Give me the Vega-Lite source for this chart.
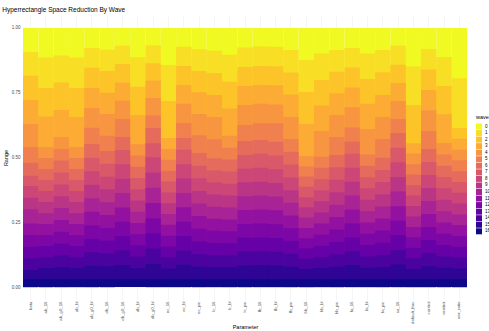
{
"$schema":"https://vega.github.io/schema/vega-lite/v6.json",
"autosize":{"type":"none"},
"width":444,"height":285,
"padding":{"left":23,"top":15,"right":22,"bottom":31},
"background":"white",
"config":{"view":{"stroke":null},"font":"Liberation Sans"},
"title":{"text":"Hyperrectangle Space Reduction By Wave","anchor":"start","fontSize":6.5,"fontWeight":"normal","color":"#000000","offset":2,"dx":-1},
"datasets":{"d":[
{"p":"beta","w":0,"r":1},{"p":"beta","w":1,"r":0.907},{"p":"beta","w":2,"r":0.816},{"p":"beta","w":3,"r":0.722},{"p":"beta","w":4,"r":0.629},{"p":"beta","w":5,"r":0.541},{"p":"beta","w":6,"r":0.48},{"p":"beta","w":7,"r":0.43},{"p":"beta","w":8,"r":0.39},{"p":"beta","w":9,"r":0.345},{"p":"beta","w":10,"r":0.30},{"p":"beta","w":11,"r":0.245},{"p":"beta","w":12,"r":0.20},{"p":"beta","w":13,"r":0.155},{"p":"beta","w":14,"r":0.11},{"p":"beta","w":15,"r":0.065},{"p":"beta","w":16,"r":0.03},
{"p":"ab_16","w":0,"r":1},{"p":"ab_16","w":1,"r":0.886},{"p":"ab_16","w":2,"r":0.768},{"p":"ab_16","w":3,"r":0.658},{"p":"ab_16","w":4,"r":0.541},{"p":"ab_16","w":5,"r":0.498},{"p":"ab_16","w":6,"r":0.456},{"p":"ab_16","w":7,"r":0.413},{"p":"ab_16","w":8,"r":0.371},{"p":"ab_16","w":9,"r":0.328},{"p":"ab_16","w":10,"r":0.285},{"p":"ab_16","w":11,"r":0.243},{"p":"ab_16","w":12,"r":0.20},{"p":"ab_16","w":13,"r":0.158},{"p":"ab_16","w":14,"r":0.115},{"p":"ab_16","w":15,"r":0.073},{"p":"ab_16","w":16,"r":0.03},
{"p":"ab_g0_16","w":0,"r":1},{"p":"ab_g0_16","w":1,"r":0.894},{"p":"ab_g0_16","w":2,"r":0.789},{"p":"ab_g0_16","w":3,"r":0.683},{"p":"ab_g0_16","w":4,"r":0.579},{"p":"ab_g0_16","w":5,"r":0.533},{"p":"ab_g0_16","w":6,"r":0.488},{"p":"ab_g0_16","w":7,"r":0.442},{"p":"ab_g0_16","w":8,"r":0.396},{"p":"ab_g0_16","w":9,"r":0.350},{"p":"ab_g0_16","w":10,"r":0.305},{"p":"ab_g0_16","w":11,"r":0.259},{"p":"ab_g0_16","w":12,"r":0.213},{"p":"ab_g0_16","w":13,"r":0.167},{"p":"ab_g0_16","w":14,"r":0.122},{"p":"ab_g0_16","w":15,"r":0.076},{"p":"ab_g0_16","w":16,"r":0.03},
{"p":"ab_bl","w":0,"r":1},{"p":"ab_bl","w":1,"r":0.886},{"p":"ab_bl","w":2,"r":0.768},{"p":"ab_bl","w":3,"r":0.656},{"p":"ab_bl","w":4,"r":0.541},{"p":"ab_bl","w":5,"r":0.498},{"p":"ab_bl","w":6,"r":0.456},{"p":"ab_bl","w":7,"r":0.413},{"p":"ab_bl","w":8,"r":0.371},{"p":"ab_bl","w":9,"r":0.328},{"p":"ab_bl","w":10,"r":0.285},{"p":"ab_bl","w":11,"r":0.243},{"p":"ab_bl","w":12,"r":0.20},{"p":"ab_bl","w":13,"r":0.158},{"p":"ab_bl","w":14,"r":0.115},{"p":"ab_bl","w":15,"r":0.073},{"p":"ab_bl","w":16,"r":0.03},
{"p":"ab_g0_bl","w":0,"r":1},{"p":"ab_g0_bl","w":1,"r":0.923},{"p":"ab_g0_bl","w":2,"r":0.846},{"p":"ab_g0_bl","w":3,"r":0.768},{"p":"ab_g0_bl","w":4,"r":0.691},{"p":"ab_g0_bl","w":5,"r":0.615},{"p":"ab_g0_bl","w":6,"r":0.552},{"p":"ab_g0_bl","w":7,"r":0.499},{"p":"ab_g0_bl","w":8,"r":0.447},{"p":"ab_g0_bl","w":9,"r":0.395},{"p":"ab_g0_bl","w":10,"r":0.343},{"p":"ab_g0_bl","w":11,"r":0.291},{"p":"ab_g0_bl","w":12,"r":0.238},{"p":"ab_g0_bl","w":13,"r":0.186},{"p":"ab_g0_bl","w":14,"r":0.134},{"p":"ab_g0_bl","w":15,"r":0.082},{"p":"ab_g0_bl","w":16,"r":0.03},
{"p":"db_16","w":0,"r":1},{"p":"db_16","w":1,"r":0.916},{"p":"db_16","w":2,"r":0.834},{"p":"db_16","w":3,"r":0.750},{"p":"db_16","w":4,"r":0.668},{"p":"db_16","w":5,"r":0.584},{"p":"db_16","w":6,"r":0.525},{"p":"db_16","w":7,"r":0.476},{"p":"db_16","w":8,"r":0.426},{"p":"db_16","w":9,"r":0.377},{"p":"db_16","w":10,"r":0.327},{"p":"db_16","w":11,"r":0.278},{"p":"db_16","w":12,"r":0.228},{"p":"db_16","w":13,"r":0.179},{"p":"db_16","w":14,"r":0.129},{"p":"db_16","w":15,"r":0.080},{"p":"db_16","w":16,"r":0.03},
{"p":"db_g0_16","w":0,"r":1},{"p":"db_g0_16","w":1,"r":0.931},{"p":"db_g0_16","w":2,"r":0.861},{"p":"db_g0_16","w":3,"r":0.789},{"p":"db_g0_16","w":4,"r":0.719},{"p":"db_g0_16","w":5,"r":0.649},{"p":"db_g0_16","w":6,"r":0.579},{"p":"db_g0_16","w":7,"r":0.529},{"p":"db_g0_16","w":8,"r":0.474},{"p":"db_g0_16","w":9,"r":0.418},{"p":"db_g0_16","w":10,"r":0.363},{"p":"db_g0_16","w":11,"r":0.307},{"p":"db_g0_16","w":12,"r":0.252},{"p":"db_g0_16","w":13,"r":0.196},{"p":"db_g0_16","w":14,"r":0.141},{"p":"db_g0_16","w":15,"r":0.085},{"p":"db_g0_16","w":16,"r":0.03},
{"p":"db_bl","w":0,"r":1},{"p":"db_bl","w":1,"r":0.887},{"p":"db_bl","w":2,"r":0.773},{"p":"db_bl","w":3,"r":0.664},{"p":"db_bl","w":4,"r":0.551},{"p":"db_bl","w":5,"r":0.508},{"p":"db_bl","w":6,"r":0.464},{"p":"db_bl","w":7,"r":0.421},{"p":"db_bl","w":8,"r":0.377},{"p":"db_bl","w":9,"r":0.334},{"p":"db_bl","w":10,"r":0.291},{"p":"db_bl","w":11,"r":0.247},{"p":"db_bl","w":12,"r":0.204},{"p":"db_bl","w":13,"r":0.160},{"p":"db_bl","w":14,"r":0.117},{"p":"db_bl","w":15,"r":0.073},{"p":"db_bl","w":16,"r":0.03},
{"p":"db_g0_bl","w":0,"r":1},{"p":"db_g0_bl","w":1,"r":0.933},{"p":"db_g0_bl","w":2,"r":0.864},{"p":"db_g0_bl","w":3,"r":0.797},{"p":"db_g0_bl","w":4,"r":0.730},{"p":"db_g0_bl","w":5,"r":0.662},{"p":"db_g0_bl","w":6,"r":0.614},{"p":"db_g0_bl","w":7,"r":0.555},{"p":"db_g0_bl","w":8,"r":0.501},{"p":"db_g0_bl","w":9,"r":0.442},{"p":"db_g0_bl","w":10,"r":0.383},{"p":"db_g0_bl","w":11,"r":0.324},{"p":"db_g0_bl","w":12,"r":0.265},{"p":"db_g0_bl","w":13,"r":0.207},{"p":"db_g0_bl","w":14,"r":0.148},{"p":"db_g0_bl","w":15,"r":0.089},{"p":"db_g0_bl","w":16,"r":0.03},
{"p":"ec_16","w":0,"r":1},{"p":"ec_16","w":1,"r":0.857},{"p":"ec_16","w":2,"r":0.718},{"p":"ec_16","w":3,"r":0.575},{"p":"ec_16","w":4,"r":0.533},{"p":"ec_16","w":5,"r":0.491},{"p":"ec_16","w":6,"r":0.449},{"p":"ec_16","w":7,"r":0.407},{"p":"ec_16","w":8,"r":0.365},{"p":"ec_16","w":9,"r":0.323},{"p":"ec_16","w":10,"r":0.282},{"p":"ec_16","w":11,"r":0.240},{"p":"ec_16","w":12,"r":0.198},{"p":"ec_16","w":13,"r":0.156},{"p":"ec_16","w":14,"r":0.114},{"p":"ec_16","w":15,"r":0.072},{"p":"ec_16","w":16,"r":0.03},
{"p":"ec_bl","w":0,"r":1},{"p":"ec_bl","w":1,"r":0.927},{"p":"ec_bl","w":2,"r":0.853},{"p":"ec_bl","w":3,"r":0.780},{"p":"ec_bl","w":4,"r":0.707},{"p":"ec_bl","w":5,"r":0.633},{"p":"ec_bl","w":6,"r":0.575},{"p":"ec_bl","w":7,"r":0.530},{"p":"ec_bl","w":8,"r":0.474},{"p":"ec_bl","w":9,"r":0.419},{"p":"ec_bl","w":10,"r":0.363},{"p":"ec_bl","w":11,"r":0.308},{"p":"ec_bl","w":12,"r":0.252},{"p":"ec_bl","w":13,"r":0.197},{"p":"ec_bl","w":14,"r":0.141},{"p":"ec_bl","w":15,"r":0.086},{"p":"ec_bl","w":16,"r":0.03},
{"p":"ec_pic","w":0,"r":1},{"p":"ec_pic","w":1,"r":0.918},{"p":"ec_pic","w":2,"r":0.834},{"p":"ec_pic","w":3,"r":0.752},{"p":"ec_pic","w":4,"r":0.668},{"p":"ec_pic","w":5,"r":0.586},{"p":"ec_pic","w":6,"r":0.517},{"p":"ec_pic","w":7,"r":0.468},{"p":"ec_pic","w":8,"r":0.420},{"p":"ec_pic","w":9,"r":0.371},{"p":"ec_pic","w":10,"r":0.322},{"p":"ec_pic","w":11,"r":0.274},{"p":"ec_pic","w":12,"r":0.225},{"p":"ec_pic","w":13,"r":0.176},{"p":"ec_pic","w":14,"r":0.127},{"p":"ec_pic","w":15,"r":0.079},{"p":"ec_pic","w":16,"r":0.03},
{"p":"lc_16","w":0,"r":1},{"p":"lc_16","w":1,"r":0.912},{"p":"lc_16","w":2,"r":0.826},{"p":"lc_16","w":3,"r":0.741},{"p":"lc_16","w":4,"r":0.656},{"p":"lc_16","w":5,"r":0.570},{"p":"lc_16","w":6,"r":0.497},{"p":"lc_16","w":7,"r":0.450},{"p":"lc_16","w":8,"r":0.404},{"p":"lc_16","w":9,"r":0.357},{"p":"lc_16","w":10,"r":0.310},{"p":"lc_16","w":11,"r":0.264},{"p":"lc_16","w":12,"r":0.217},{"p":"lc_16","w":13,"r":0.170},{"p":"lc_16","w":14,"r":0.123},{"p":"lc_16","w":15,"r":0.077},{"p":"lc_16","w":16,"r":0.03},
{"p":"lc_bl","w":0,"r":1},{"p":"lc_bl","w":1,"r":0.897},{"p":"lc_bl","w":2,"r":0.792},{"p":"lc_bl","w":3,"r":0.689},{"p":"lc_bl","w":4,"r":0.584},{"p":"lc_bl","w":5,"r":0.538},{"p":"lc_bl","w":6,"r":0.492},{"p":"lc_bl","w":7,"r":0.446},{"p":"lc_bl","w":8,"r":0.399},{"p":"lc_bl","w":9,"r":0.353},{"p":"lc_bl","w":10,"r":0.307},{"p":"lc_bl","w":11,"r":0.261},{"p":"lc_bl","w":12,"r":0.215},{"p":"lc_bl","w":13,"r":0.169},{"p":"lc_bl","w":14,"r":0.122},{"p":"lc_bl","w":15,"r":0.076},{"p":"lc_bl","w":16,"r":0.03},
{"p":"lc_pic","w":0,"r":1},{"p":"lc_pic","w":1,"r":0.925},{"p":"lc_pic","w":2,"r":0.849},{"p":"lc_pic","w":3,"r":0.776},{"p":"lc_pic","w":4,"r":0.703},{"p":"lc_pic","w":5,"r":0.625},{"p":"lc_pic","w":6,"r":0.564},{"p":"lc_pic","w":7,"r":0.510},{"p":"lc_pic","w":8,"r":0.457},{"p":"lc_pic","w":9,"r":0.404},{"p":"lc_pic","w":10,"r":0.350},{"p":"lc_pic","w":11,"r":0.297},{"p":"lc_pic","w":12,"r":0.243},{"p":"lc_pic","w":13,"r":0.190},{"p":"lc_pic","w":14,"r":0.137},{"p":"lc_pic","w":15,"r":0.083},{"p":"lc_pic","w":16,"r":0.03},
{"p":"fb_16","w":0,"r":1},{"p":"fb_16","w":1,"r":0.928},{"p":"fb_16","w":2,"r":0.853},{"p":"fb_16","w":3,"r":0.780},{"p":"fb_16","w":4,"r":0.707},{"p":"fb_16","w":5,"r":0.632},{"p":"fb_16","w":6,"r":0.568},{"p":"fb_16","w":7,"r":0.514},{"p":"fb_16","w":8,"r":0.460},{"p":"fb_16","w":9,"r":0.406},{"p":"fb_16","w":10,"r":0.353},{"p":"fb_16","w":11,"r":0.299},{"p":"fb_16","w":12,"r":0.245},{"p":"fb_16","w":13,"r":0.191},{"p":"fb_16","w":14,"r":0.138},{"p":"fb_16","w":15,"r":0.084},{"p":"fb_16","w":16,"r":0.03},
{"p":"fb_bl","w":0,"r":1},{"p":"fb_bl","w":1,"r":0.927},{"p":"fb_bl","w":2,"r":0.852},{"p":"fb_bl","w":3,"r":0.779},{"p":"fb_bl","w":4,"r":0.705},{"p":"fb_bl","w":5,"r":0.632},{"p":"fb_bl","w":6,"r":0.561},{"p":"fb_bl","w":7,"r":0.508},{"p":"fb_bl","w":8,"r":0.455},{"p":"fb_bl","w":9,"r":0.402},{"p":"fb_bl","w":10,"r":0.349},{"p":"fb_bl","w":11,"r":0.296},{"p":"fb_bl","w":12,"r":0.242},{"p":"fb_bl","w":13,"r":0.189},{"p":"fb_bl","w":14,"r":0.136},{"p":"fb_bl","w":15,"r":0.083},{"p":"fb_bl","w":16,"r":0.03},
{"p":"fb_pic","w":0,"r":1},{"p":"fb_pic","w":1,"r":0.915},{"p":"fb_pic","w":2,"r":0.828},{"p":"fb_pic","w":3,"r":0.743},{"p":"fb_pic","w":4,"r":0.656},{"p":"fb_pic","w":5,"r":0.571},{"p":"fb_pic","w":6,"r":0.522},{"p":"fb_pic","w":7,"r":0.473},{"p":"fb_pic","w":8,"r":0.423},{"p":"fb_pic","w":9,"r":0.374},{"p":"fb_pic","w":10,"r":0.325},{"p":"fb_pic","w":11,"r":0.276},{"p":"fb_pic","w":12,"r":0.227},{"p":"fb_pic","w":13,"r":0.178},{"p":"fb_pic","w":14,"r":0.128},{"p":"fb_pic","w":15,"r":0.079},{"p":"fb_pic","w":16,"r":0.03},
{"p":"hb_16","w":0,"r":1},{"p":"hb_16","w":1,"r":0.876},{"p":"hb_16","w":2,"r":0.753},{"p":"hb_16","w":3,"r":0.629},{"p":"hb_16","w":4,"r":0.506},{"p":"hb_16","w":5,"r":0.466},{"p":"hb_16","w":6,"r":0.427},{"p":"hb_16","w":7,"r":0.387},{"p":"hb_16","w":8,"r":0.347},{"p":"hb_16","w":9,"r":0.308},{"p":"hb_16","w":10,"r":0.268},{"p":"hb_16","w":11,"r":0.228},{"p":"hb_16","w":12,"r":0.188},{"p":"hb_16","w":13,"r":0.149},{"p":"hb_16","w":14,"r":0.109},{"p":"hb_16","w":15,"r":0.070},{"p":"hb_16","w":16,"r":0.03},
{"p":"hb_bl","w":0,"r":1},{"p":"hb_bl","w":1,"r":0.901},{"p":"hb_bl","w":2,"r":0.799},{"p":"hb_bl","w":3,"r":0.701},{"p":"hb_bl","w":4,"r":0.602},{"p":"hb_bl","w":5,"r":0.503},{"p":"hb_bl","w":6,"r":0.460},{"p":"hb_bl","w":7,"r":0.417},{"p":"hb_bl","w":8,"r":0.374},{"p":"hb_bl","w":9,"r":0.331},{"p":"hb_bl","w":10,"r":0.288},{"p":"hb_bl","w":11,"r":0.245},{"p":"hb_bl","w":12,"r":0.202},{"p":"hb_bl","w":13,"r":0.159},{"p":"hb_bl","w":14,"r":0.116},{"p":"hb_bl","w":15,"r":0.073},{"p":"hb_bl","w":16,"r":0.03},
{"p":"hb_pic","w":0,"r":1},{"p":"hb_pic","w":1,"r":0.915},{"p":"hb_pic","w":2,"r":0.831},{"p":"hb_pic","w":3,"r":0.748},{"p":"hb_pic","w":4,"r":0.664},{"p":"hb_pic","w":5,"r":0.579},{"p":"hb_pic","w":6,"r":0.510},{"p":"hb_pic","w":7,"r":0.462},{"p":"hb_pic","w":8,"r":0.414},{"p":"hb_pic","w":9,"r":0.366},{"p":"hb_pic","w":10,"r":0.318},{"p":"hb_pic","w":11,"r":0.270},{"p":"hb_pic","w":12,"r":0.222},{"p":"hb_pic","w":13,"r":0.174},{"p":"hb_pic","w":14,"r":0.126},{"p":"hb_pic","w":15,"r":0.078},{"p":"hb_pic","w":16,"r":0.03},
{"p":"fa_16","w":0,"r":1},{"p":"fa_16","w":1,"r":0.923},{"p":"fa_16","w":2,"r":0.847},{"p":"fa_16","w":3,"r":0.770},{"p":"fa_16","w":4,"r":0.694},{"p":"fa_16","w":5,"r":0.616},{"p":"fa_16","w":6,"r":0.562},{"p":"fa_16","w":7,"r":0.514},{"p":"fa_16","w":8,"r":0.460},{"p":"fa_16","w":9,"r":0.406},{"p":"fa_16","w":10,"r":0.353},{"p":"fa_16","w":11,"r":0.299},{"p":"fa_16","w":12,"r":0.245},{"p":"fa_16","w":13,"r":0.191},{"p":"fa_16","w":14,"r":0.138},{"p":"fa_16","w":15,"r":0.084},{"p":"fa_16","w":16,"r":0.03},
{"p":"fa_bl","w":0,"r":1},{"p":"fa_bl","w":1,"r":0.901},{"p":"fa_bl","w":2,"r":0.803},{"p":"fa_bl","w":3,"r":0.707},{"p":"fa_bl","w":4,"r":0.610},{"p":"fa_bl","w":5,"r":0.512},{"p":"fa_bl","w":6,"r":0.468},{"p":"fa_bl","w":7,"r":0.424},{"p":"fa_bl","w":8,"r":0.381},{"p":"fa_bl","w":9,"r":0.337},{"p":"fa_bl","w":10,"r":0.293},{"p":"fa_bl","w":11,"r":0.249},{"p":"fa_bl","w":12,"r":0.206},{"p":"fa_bl","w":13,"r":0.162},{"p":"fa_bl","w":14,"r":0.118},{"p":"fa_bl","w":15,"r":0.074},{"p":"fa_bl","w":16,"r":0.03},
{"p":"fa_pic","w":0,"r":1},{"p":"fa_pic","w":1,"r":0.915},{"p":"fa_pic","w":2,"r":0.829},{"p":"fa_pic","w":3,"r":0.741},{"p":"fa_pic","w":4,"r":0.656},{"p":"fa_pic","w":5,"r":0.571},{"p":"fa_pic","w":6,"r":0.499},{"p":"fa_pic","w":7,"r":0.452},{"p":"fa_pic","w":8,"r":0.405},{"p":"fa_pic","w":9,"r":0.358},{"p":"fa_pic","w":10,"r":0.311},{"p":"fa_pic","w":11,"r":0.265},{"p":"fa_pic","w":12,"r":0.218},{"p":"fa_pic","w":13,"r":0.171},{"p":"fa_pic","w":14,"r":0.124},{"p":"fa_pic","w":15,"r":0.077},{"p":"fa_pic","w":16,"r":0.03},
{"p":"sa_16","w":0,"r":1},{"p":"sa_16","w":1,"r":0.931},{"p":"sa_16","w":2,"r":0.858},{"p":"sa_16","w":3,"r":0.788},{"p":"sa_16","w":4,"r":0.718},{"p":"sa_16","w":5,"r":0.649},{"p":"sa_16","w":6,"r":0.595},{"p":"sa_16","w":7,"r":0.538},{"p":"sa_16","w":8,"r":0.482},{"p":"sa_16","w":9,"r":0.425},{"p":"sa_16","w":10,"r":0.369},{"p":"sa_16","w":11,"r":0.312},{"p":"sa_16","w":12,"r":0.256},{"p":"sa_16","w":13,"r":0.200},{"p":"sa_16","w":14,"r":0.143},{"p":"sa_16","w":15,"r":0.087},{"p":"sa_16","w":16,"r":0.03},
{"p":"default_frac","w":0,"r":1},{"p":"default_frac","w":1,"r":0.851},{"p":"default_frac","w":2,"r":0.703},{"p":"default_frac","w":3,"r":0.555},{"p":"default_frac","w":4,"r":0.515},{"p":"default_frac","w":5,"r":0.474},{"p":"default_frac","w":6,"r":0.434},{"p":"default_frac","w":7,"r":0.393},{"p":"default_frac","w":8,"r":0.353},{"p":"default_frac","w":9,"r":0.313},{"p":"default_frac","w":10,"r":0.272},{"p":"default_frac","w":11,"r":0.232},{"p":"default_frac","w":12,"r":0.192},{"p":"default_frac","w":13,"r":0.151},{"p":"default_frac","w":14,"r":0.111},{"p":"default_frac","w":15,"r":0.070},{"p":"default_frac","w":16,"r":0.03},
{"p":"control","w":0,"r":1},{"p":"control","w":1,"r":0.919},{"p":"control","w":2,"r":0.840},{"p":"control","w":3,"r":0.761},{"p":"control","w":4,"r":0.682},{"p":"control","w":5,"r":0.602},{"p":"control","w":6,"r":0.533},{"p":"control","w":7,"r":0.483},{"p":"control","w":8,"r":0.432},{"p":"control","w":9,"r":0.382},{"p":"control","w":10,"r":0.332},{"p":"control","w":11,"r":0.282},{"p":"control","w":12,"r":0.231},{"p":"control","w":13,"r":0.181},{"p":"control","w":14,"r":0.131},{"p":"control","w":15,"r":0.080},{"p":"control","w":16,"r":0.03},
{"p":"restrict","w":0,"r":1},{"p":"restrict","w":1,"r":0.888},{"p":"restrict","w":2,"r":0.776},{"p":"restrict","w":3,"r":0.667},{"p":"restrict","w":4,"r":0.556},{"p":"restrict","w":5,"r":0.512},{"p":"restrict","w":6,"r":0.468},{"p":"restrict","w":7,"r":0.425},{"p":"restrict","w":8,"r":0.381},{"p":"restrict","w":9,"r":0.337},{"p":"restrict","w":10,"r":0.293},{"p":"restrict","w":11,"r":0.249},{"p":"restrict","w":12,"r":0.206},{"p":"restrict","w":13,"r":0.162},{"p":"restrict","w":14,"r":0.118},{"p":"restrict","w":15,"r":0.074},{"p":"restrict","w":16,"r":0.03},
{"p":"sex_ratio","w":0,"r":1},{"p":"sex_ratio","w":1,"r":0.806},{"p":"sex_ratio","w":2,"r":0.614},{"p":"sex_ratio","w":3,"r":0.572},{"p":"sex_ratio","w":4,"r":0.530},{"p":"sex_ratio","w":5,"r":0.489},{"p":"sex_ratio","w":6,"r":0.447},{"p":"sex_ratio","w":7,"r":0.405},{"p":"sex_ratio","w":8,"r":0.364},{"p":"sex_ratio","w":9,"r":0.322},{"p":"sex_ratio","w":10,"r":0.280},{"p":"sex_ratio","w":11,"r":0.239},{"p":"sex_ratio","w":12,"r":0.197},{"p":"sex_ratio","w":13,"r":0.155},{"p":"sex_ratio","w":14,"r":0.114},{"p":"sex_ratio","w":15,"r":0.072},{"p":"sex_ratio","w":16,"r":0.03}
]},
"data":{"name":"d"},
"mark":{"type":"bar","strokeWidth":0},
"encoding":{
"x":{"field":"p","type":"nominal","sort":null,"title":"Parameter",
"scale":{"paddingInner":0,"paddingOuter":0},
"axis":{"labelAngle":270,"labelFontSize":4.3,"labelColor":"#4D4D4D","labelPadding":1,"ticks":false,"domain":false,"grid":true,"gridColor":"#EBEBEB","gridWidth":0.5,"titleFontSize":5.5,"titleFontWeight":"normal","titleColor":"#000000","titleY":26,"titleBaseline":"middle"}},
"y":{"field":"r","type":"quantitative","stack":null,"title":"Range",
"scale":{"domain":[-0.05,1.05],"nice":false},
"axis":{"values":[0,0.25,0.5,0.75,1],"format":".2f","labelFontSize":4.5,"labelColor":"#4D4D4D","labelPadding":3,"ticks":false,"domain":false,"grid":true,"gridColor":"#EBEBEB","gridWidth":0.5,"titleFontSize":5.5,"titleFontWeight":"normal","titleColor":"#000000","titlePadding":3}},
"color":{"field":"w","type":"ordinal","title":"wave",
"scale":{"domain":[0,1,2,3,4,5,6,7,8,9,10,11,12,13,14,15,16],"range":["#F0F921","#F8DE24","#FCC429","#FCAB34","#F79540","#F0804E","#E56C5C","#D9596A","#CC4778","#BB3587","#A82395","#9311A1","#7D06A6","#6501A7","#4B03A0","#2E0595","#0D0887"]},
"legend":{"orient":"none","legendX":453,"legendY":100,"symbolType":"square","symbolSize":36,"symbolStrokeWidth":0,"labelFontSize":4.5,"labelColor":"#000000","titleFontSize":5.5,"titleFontWeight":"normal","titleColor":"#000000","rowPadding":0.55,"labelOffset":3,"titlePadding":3}},
"order":{"field":"w","type":"ordinal"}
}
}
